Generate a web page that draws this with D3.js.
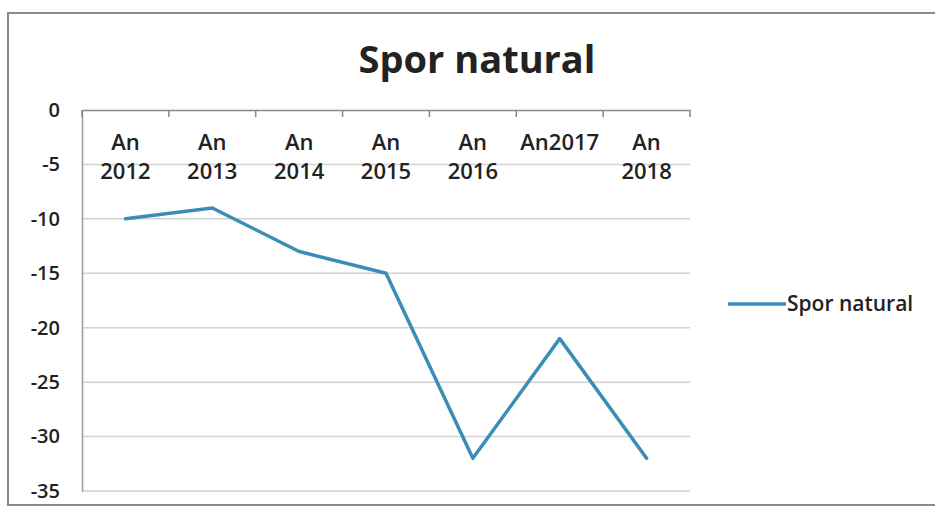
<!DOCTYPE html>
<html><head><meta charset="utf-8">
<script src="https://cdn.jsdelivr.net/npm/d3@7"></script>
<style>body{margin:0;background:#fff}svg{display:block}</style>
</head><body><svg id="c" width="935" height="515"></svg>
<script>
const categories = [["An","2012"],["An","2013"],["An","2014"],["An","2015"],["An","2016"],["An2017"],["An","2018"]];
const values = [-10, -9, -13, -15, -32, -21, -32];
const yTicks = [0, -5, -10, -15, -20, -25, -30, -35];
const title = "Spor natural";
const seriesName = "Spor natural";

(function(){
const svg = d3.select("#c");
const font = "'Open Sans', sans-serif";
const color = "#3a8db6";

svg.append("rect").attr("x",8).attr("y",13).attr("width",940).attr("height",492)
  .attr("fill","#fff").attr("stroke","#8a8a8a").attr("stroke-width",2);

svg.append("text").attr("x",477).attr("y",73).attr("text-anchor","middle")
  .attr("font-family",font).attr("font-weight","bold").attr("font-size",38).attr("fill","#222").text(title);

const pl=82, pr=690, pt=110, pb=491;
const x = d3.scaleBand().domain(d3.range(categories.length)).range([pl,pr]);
const y = d3.scaleLinear().domain([0,-35]).range([pt,pb]);

svg.append("g").selectAll("line").data(yTicks.slice(1)).join("line")
  .attr("x1",pl).attr("x2",pr).attr("y1",d=>y(d)).attr("y2",d=>y(d))
  .attr("stroke","#d2d2d2").attr("stroke-width",1.5);

const ya = svg.append("g").attr("transform",`translate(${pl},0)`)
  .call(d3.axisLeft(y).tickValues(yTicks).tickSize(0).tickPadding(22).tickFormat(d=>String(d)));
ya.select(".domain").attr("stroke","#999").attr("stroke-width",1.5);
ya.selectAll("text").attr("font-family",font).attr("font-size",20).attr("font-weight","600").attr("fill","#222");

const xa = svg.append("g").attr("transform",`translate(0,${y(0)})`)
  .call(d3.axisBottom(x).tickSize(0).tickFormat(""));
xa.select(".domain").attr("stroke","#888").attr("stroke-width",1.5);
svg.append("g").selectAll("line").data(d3.range(categories.length+1)).join("line")
  .attr("x1",i=>pl+i*x.step()).attr("x2",i=>pl+i*x.step())
  .attr("y1",y(0)).attr("y2",y(0)+7).attr("stroke","#888").attr("stroke-width",1.5);

const lab = svg.append("g").selectAll("text").data(categories).join("text")
  .attr("x",(d,i)=>x(i)+x.bandwidth()/2).attr("y",150)
  .attr("text-anchor","middle").attr("font-family",font).attr("font-size",22).attr("font-weight","600").attr("fill","#222");
lab.each(function(d){
  const t=d3.select(this);
  d.forEach((s,k)=>t.append("tspan").attr("x",t.attr("x")).attr("dy",k?29:0).text(s));
});

svg.append("path").datum(values)
  .attr("d",d3.line().x((d,i)=>x(i)+x.bandwidth()/2).y(d=>y(d)))
  .attr("fill","none").attr("stroke",color).attr("stroke-width",3.5).attr("stroke-linejoin","round").attr("stroke-linecap","round");

svg.append("line").attr("x1",728).attr("x2",786).attr("y1",304).attr("y2",304).attr("stroke",color).attr("stroke-width",3.5);
svg.append("text").attr("x",787).attr("y",311).attr("font-family",font).attr("font-size",21).attr("font-weight","600").attr("fill","#222").text(seriesName);
})();
</script></body></html>
